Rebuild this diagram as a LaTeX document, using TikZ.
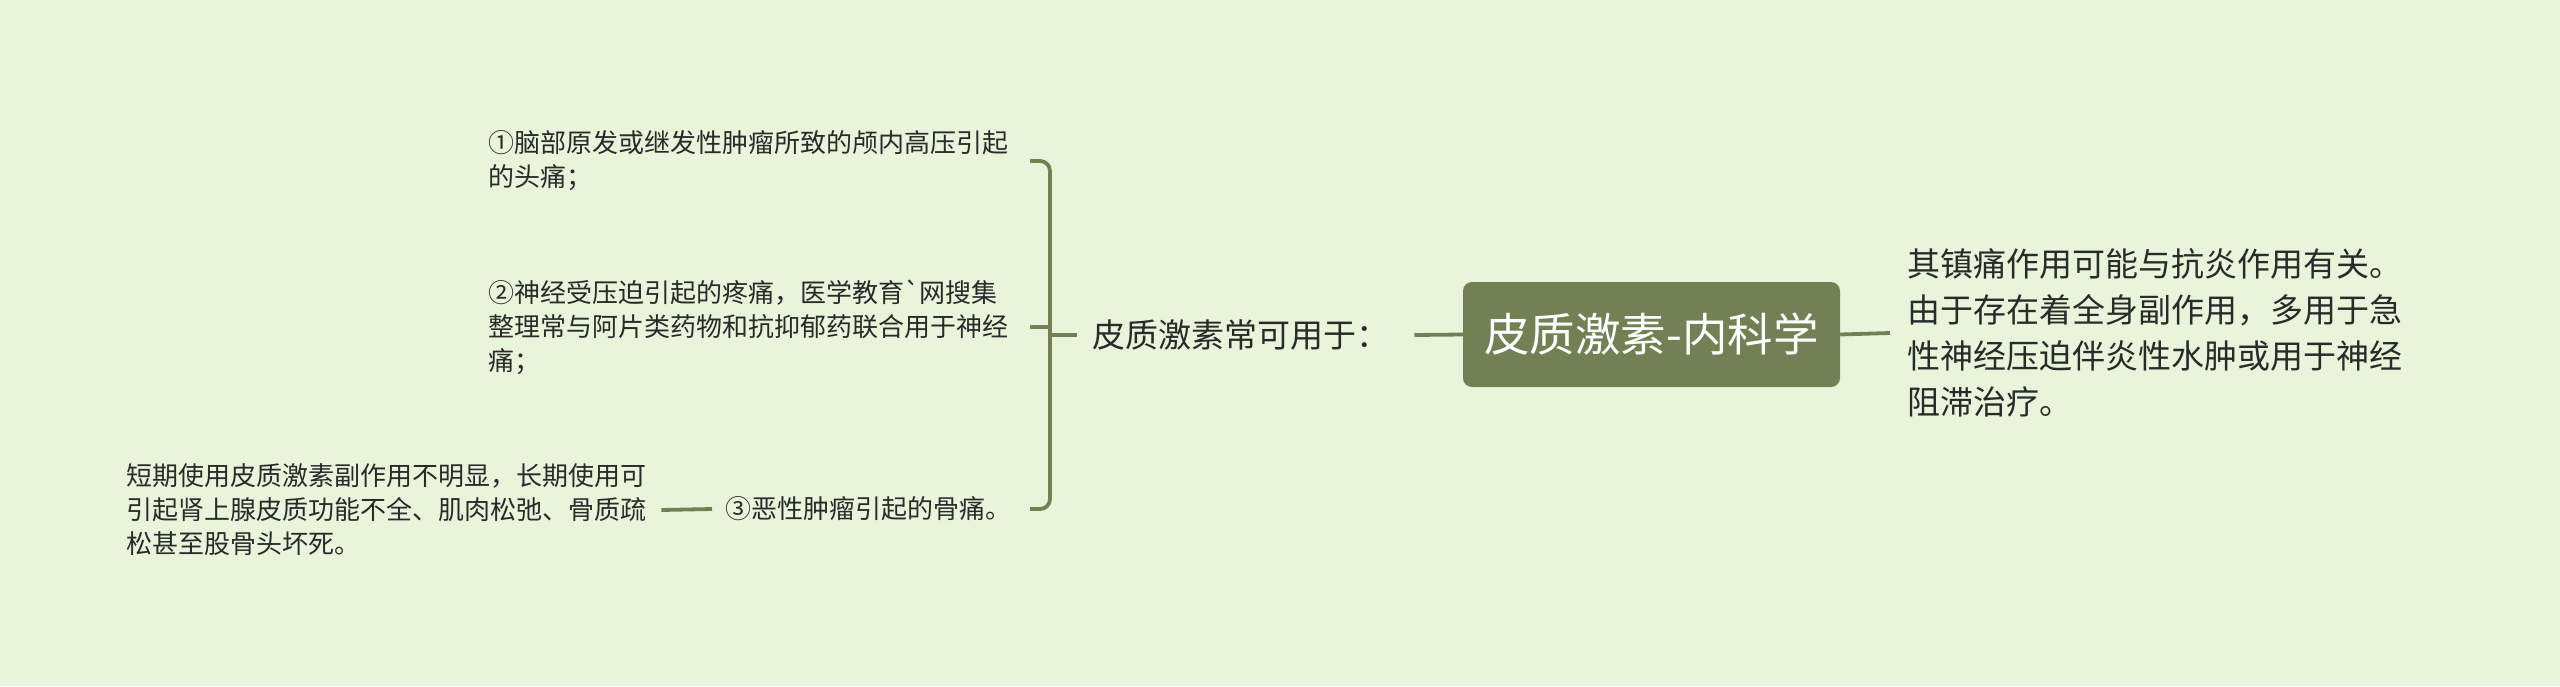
\documentclass[tikz,border=0pt]{standalone}
\usepackage{fontspec}
\newfontfamily\cjk{Noto Sans CJK SC}
\definecolor{bg}{HTML}{E8F5DB}
\definecolor{olive}{HTML}{738054}
\definecolor{ink}{HTML}{2A2A2A}
\begin{document}
\begin{tikzpicture}[x=1pt,y=-1pt,
  conn/.style={draw=olive, line width=3.8pt},
  txt/.style={inner sep=0pt, anchor=west, align=left, text=ink, font=\cjk\fontsize{26}{34}\selectfont},
  bigtxt/.style={txt, font=\cjk\fontsize{33}{46}\selectfont},
  mainbox/.style={rectangle, rounded corners=9pt, fill=olive, text=white, minimum width=377pt, minimum height=105pt, inner sep=0pt, font=\cjk\fontsize{45.5}{50}\selectfont}]
\fill[bg] (0,0) rectangle (2560,686);
\useasboundingbox (0,0) rectangle (2560,686);

\node[mainbox] (c) at (1651.5,334.5) {皮质激素-内科学};
\node[bigtxt] (k) at (1092,335) {皮质激素常可用于：};
\node[bigtxt] (r) at (1907,333) {其镇痛作用可能与抗炎作用有关。\\由于存在着全身副作用，多用于急\\性神经压迫伴炎性水肿或用于神经\\阻滞治疗。};
\node[txt] (a1) at (488,161) {①脑部原发或继发性肿瘤所致的颅内高压引起\\的头痛；};
\node[txt] (a2) at (488,327) {②神经受压迫引起的疼痛，医学教育\symbol{96}网搜集\\整理常与阿片类药物和抗抑郁药联合用于神经\\痛；};
\node[txt] (a3) at (725,509) {③恶性肿瘤引起的骨痛。};
\node[txt] (l) at (126,510) {短期使用皮质激素副作用不明显，长期使用可\\引起肾上腺皮质功能不全、肌肉松弛、骨质疏\\松甚至股骨头坏死。};

\coordinate (bx) at (1050,335);
\coordinate (bj) at (1030,335);
\draw[conn, rounded corners=10pt] (a1.east -| bj) -- (a1.east -| bx) -- (a3.east -| bx) -- (a3.east -| bj);
\draw[conn] (a2.east -| bj) -- (a2.east -| bx);
\draw[conn] (bx) -- ([xshift=-15pt]k.west);
\draw[conn] ([xshift=25pt]k.east) -- (c.west);
\draw[conn] (c.east) -- ([xshift=-17pt]r.west);
\draw[conn] ([xshift=-13pt]a3.west) -- ([xshift=15pt]l.east);
\end{tikzpicture}
\end{document}
